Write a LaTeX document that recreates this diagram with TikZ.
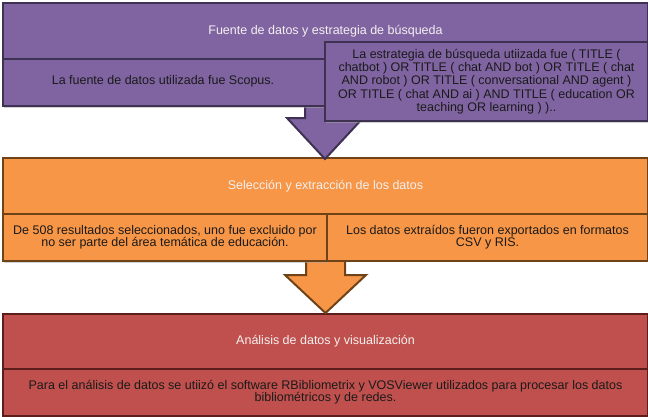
\documentclass[tikz,border=0pt]{standalone}
\usepackage{fontspec}
\setmainfont{Liberation Sans}
\usetikzlibrary{shadows}
\definecolor{pfill}{HTML}{8064A2}
\definecolor{pline}{HTML}{3F3151}
\definecolor{ofill}{HTML}{F79646}
\definecolor{oline}{HTML}{6E4317}
\definecolor{rfill}{HTML}{C0504D}
\definecolor{rline}{HTML}{5C1D1B}
\definecolor{htext}{HTML}{F4F0F0}
\definecolor{btext}{HTML}{1A1A1A}
\begin{document}
\begin{tikzpicture}[x=1pt,y=-1pt,
  box/.style={rectangle, line width=2pt, inner sep=0pt, anchor=north west, align=center,
    font=\fontsize{12.5}{13.3}\selectfont},
  pbox/.style={box, fill=pfill, draw=pline},
  obox/.style={box, fill=ofill, draw=oline},
  rbox/.style={box, fill=rfill, draw=rline},
  head/.style={text=htext},
  body/.style={text=btext},
  shad/.style={drop shadow={shadow xshift=1pt, shadow yshift=-1.5pt, fill=black!35, opacity=0.5}},
  blockarrow/.style={line width=2pt, line join=miter}
]
\useasboundingbox (0,0) rectangle (648,416);

% --- red stage ---
\node[rbox, head, shad, minimum width=645pt, minimum height=55pt] (h3) at (2,313) {Análisis de datos y visualización};
\node[rbox, body, shad, minimum width=645pt, minimum height=47pt, font=\fontsize{12.5}{12}\selectfont] (s3) at (2,368)
  {Para el análisis de datos se utiizó el software RBibliometrix y VOSViewer utilizados para procesar los datos\\bibliométricos y de redes.};

% --- orange arrow ---
\coordinate (a2top) at (325.5,250);
\coordinate (a2tip) at (325.5,313);
\path[blockarrow, fill=ofill] (306,250) -- (306,275) -- (285,275) -- (a2tip) -- (366,275) -- (345,275) -- (345,250) -- cycle;
\draw[blockarrow, draw=oline] (306,250) -- (306,275) -- (285,275) -- (a2tip) -- (366,275) -- (345,275) -- (345,250);

% --- orange stage ---
\node[obox, head, shad, minimum width=645pt, minimum height=56pt] (h2) at (2,157) {Selección y extracción de los datos};
\node[obox, body, shad, minimum width=324pt, minimum height=47pt, font=\fontsize{12.5}{12.3}\selectfont] (s2a) at (2,213)
  {De 508 resultados seleccionados, uno fue excluido por\\no ser parte del área temática de educación.};
\node[obox, body, minimum width=321pt, minimum height=47pt, font=\fontsize{12.5}{12.3}\selectfont] (s2b) at (326,213)
  {Los datos extraídos fueron exportados en formatos\\CSV y RIS.};

% --- purple arrow ---
\coordinate (a1tip) at (325,159);
\path[blockarrow, fill=pfill] (305,95) -- (305,118) -- (287,118) -- (a1tip) -- (363,118) -- (345,118) -- (345,95) -- cycle;
\draw[blockarrow, draw=pline] (305,95) -- (305,118) -- (287,118) -- (a1tip) -- (363,118) -- (345,118) -- (345,95);

% --- purple stage ---
\node[pbox, head, shad, minimum width=645pt, minimum height=56pt] (h1) at (2,2) {Fuente de datos y estrategia de búsqueda};
\node[pbox, body, shad, minimum width=645pt, minimum height=47pt] (s1) at (2,58) {};
\node[body, font=\fontsize{12.5}{13.3}\selectfont, inner sep=0pt] (s1a) at (163,81.5) {La fuente de datos utilizada fue Scopus.};
\node[pbox, body, shad, minimum width=323pt, minimum height=79pt] (s1b) at (324,41)
  {La estrategia de búsqueda utiizada fue ( TITLE (\\chatbot ) OR TITLE ( chat AND bot ) OR TITLE ( chat\\AND robot ) OR TITLE ( conversational AND agent )\\OR TITLE ( chat AND ai ) AND TITLE ( education OR\\teaching OR learning ) )..};
\end{tikzpicture}
\end{document}
